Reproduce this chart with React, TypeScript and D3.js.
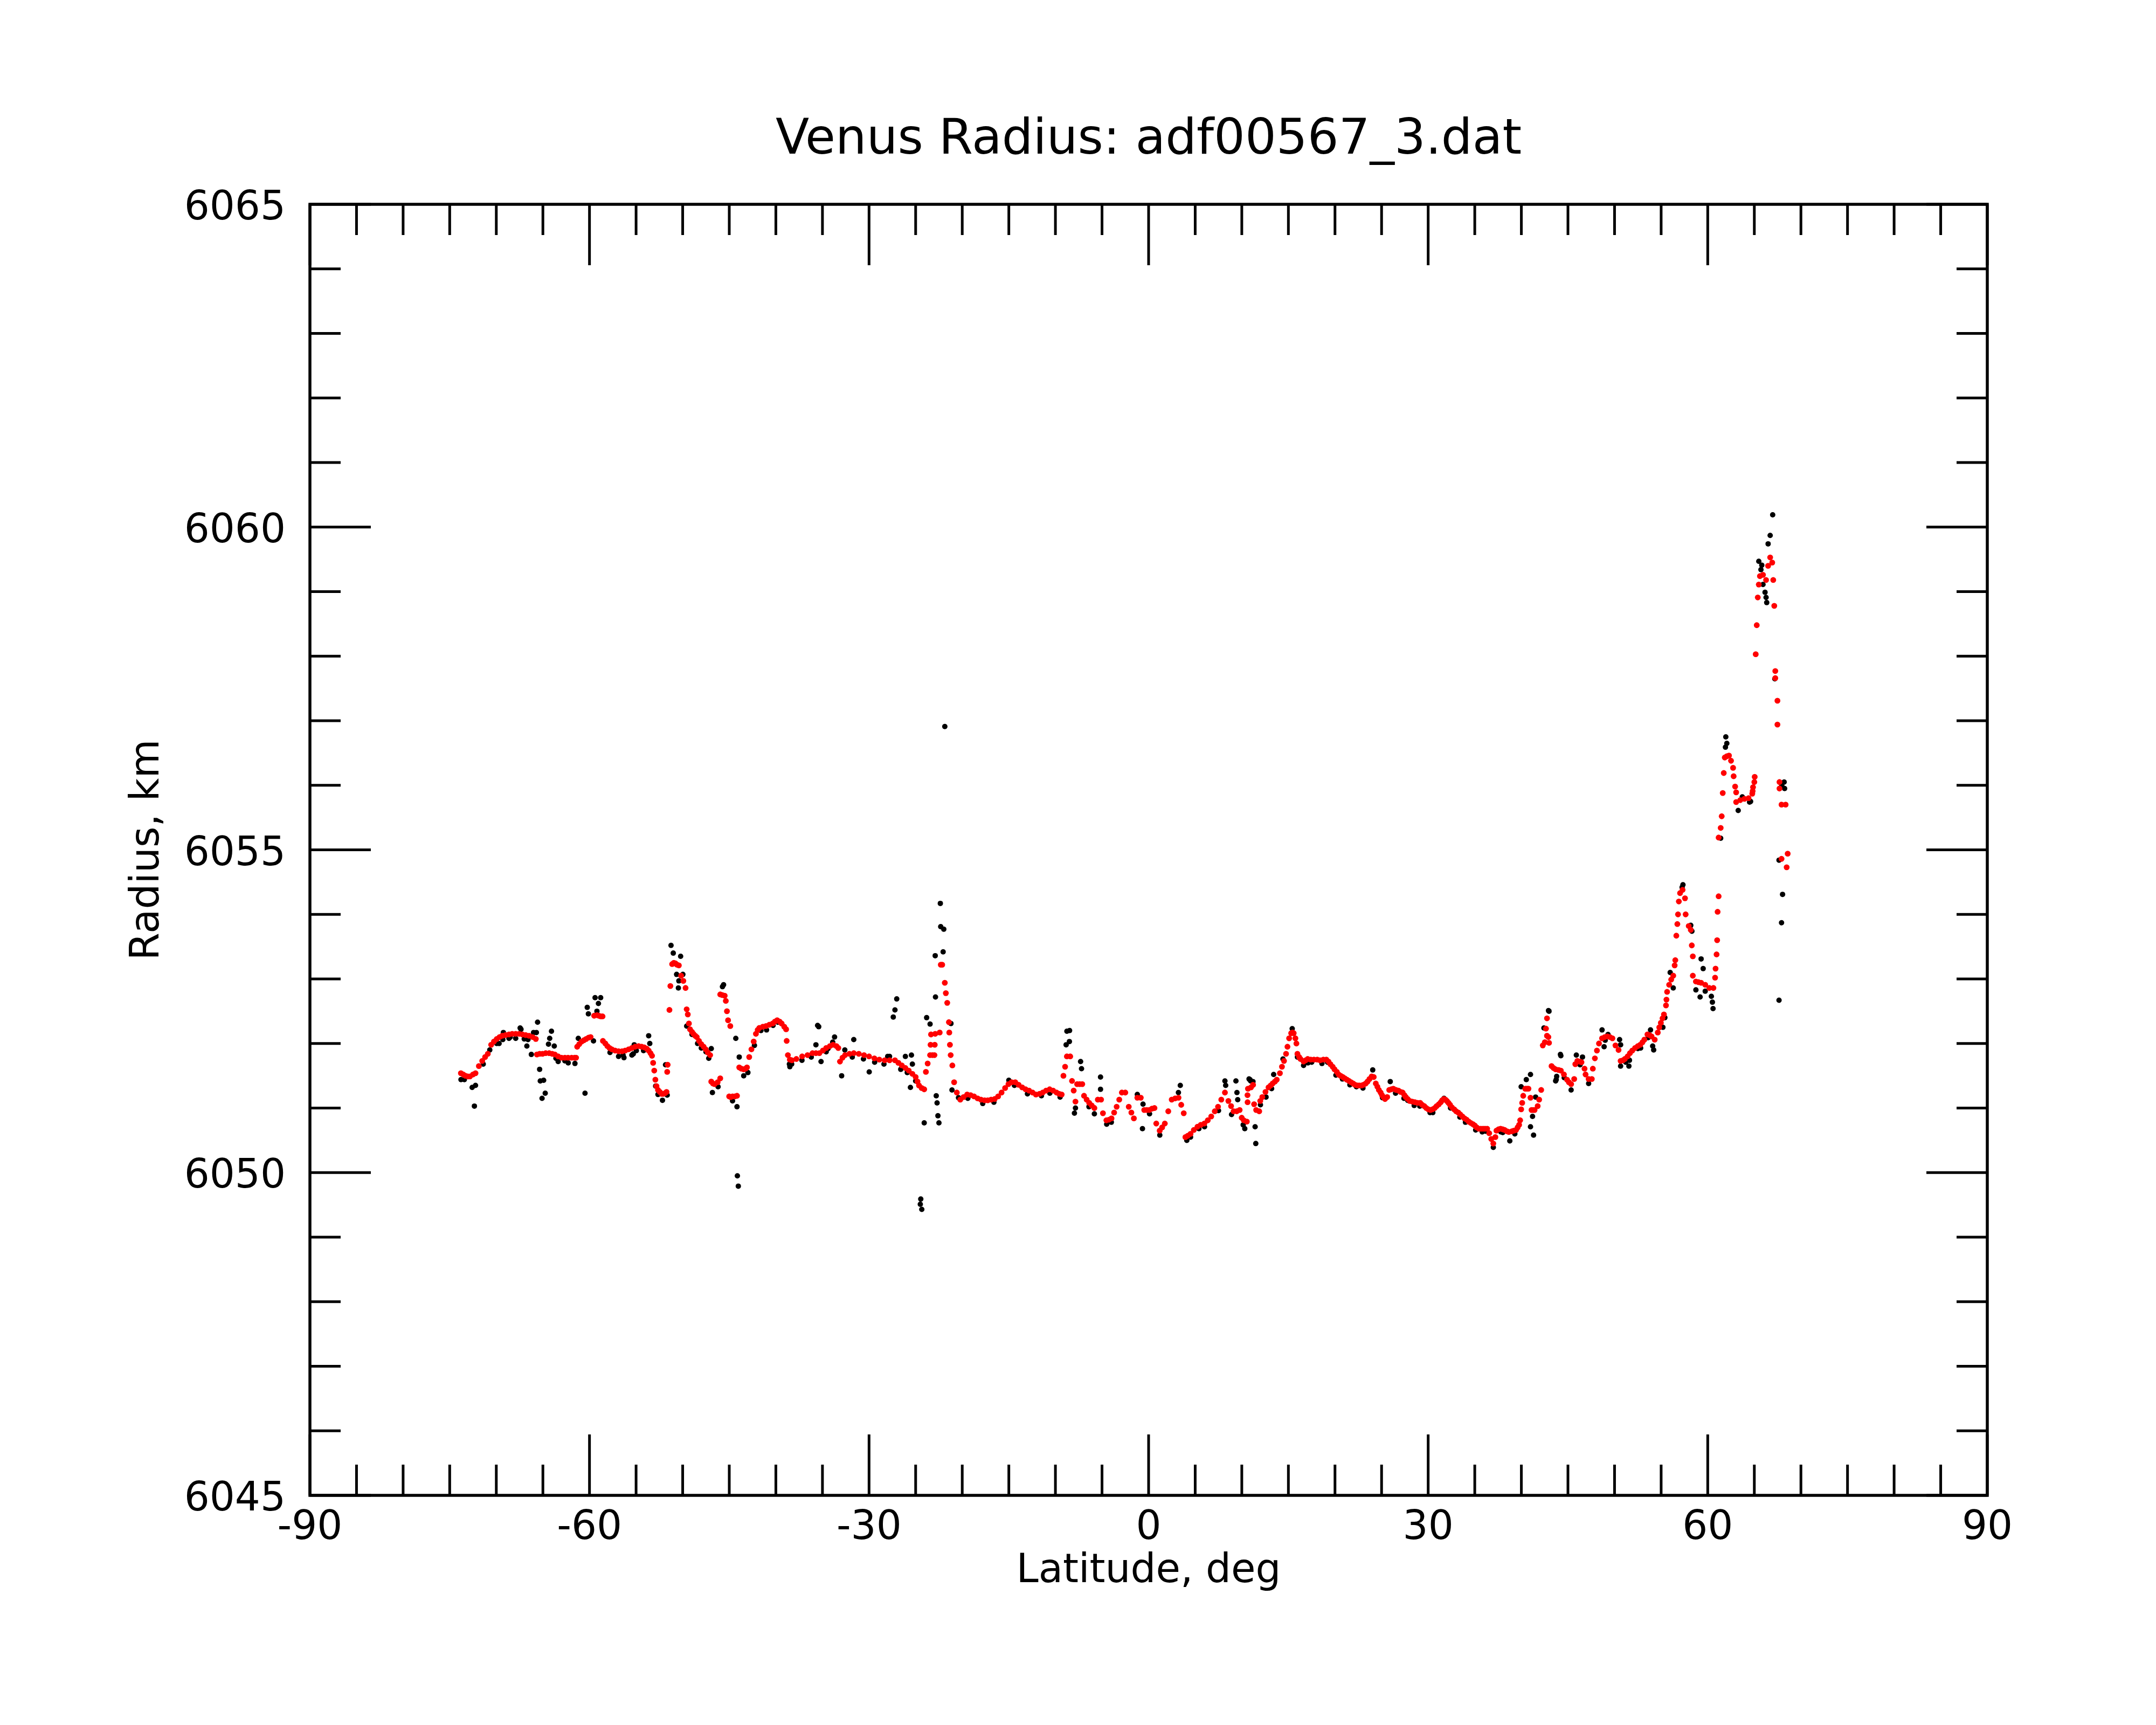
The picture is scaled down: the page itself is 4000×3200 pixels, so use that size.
import { scaleLinear, range } from "d3";

// ---- data: [latitude deg, radius km] ----
const fitSouth: [number, number][] = [
  [-73.8, 6051.54], [-73.55, 6051.52], [-73.31, 6051.5], [-73.05, 6051.49], [-72.83, 6051.49], [-72.5, 6051.52],
  [-72.23, 6051.54], [-71.87, 6051.65], [-71.51, 6051.73], [-71.2, 6051.79], [-70.91, 6051.84], [-70.55, 6051.98],
  [-70.25, 6052.03], [-69.95, 6052.07], [-69.65, 6052.1], [-69.36, 6052.12], [-69.0, 6052.13], [-68.64, 6052.14],
  [-68.3, 6052.15], [-67.92, 6052.15], [-67.55, 6052.15], [-67.2, 6052.14], [-66.85, 6052.13], [-66.48, 6052.12],
  [-66.1, 6052.1], [-65.76, 6052.07], [-65.64, 6051.83], [-65.35, 6051.84], [-65.04, 6051.84], [-64.7, 6051.85],
  [-64.32, 6051.85], [-64.0, 6051.84], [-63.72, 6051.83], [-63.36, 6051.8], [-63.0, 6051.78], [-62.64, 6051.78],
  [-62.3, 6051.78], [-61.92, 6051.78], [-61.6, 6051.78], [-61.44, 6051.78], [-61.32, 6051.95], [-61.1, 6051.99],
  [-60.84, 6052.03], [-60.6, 6052.05], [-60.36, 6052.07], [-60.1, 6052.09], [-59.88, 6052.1], [-59.5, 6052.43],
  [-59.2, 6052.44], [-59.0, 6052.43], [-58.8, 6052.42], [-58.6, 6052.42], [-58.56, 6052.04], [-58.3, 6052.0],
  [-58.08, 6051.96], [-57.85, 6051.93], [-57.6, 6051.91], [-57.25, 6051.89], [-56.88, 6051.88], [-56.5, 6051.88],
  [-56.17, 6051.89], [-55.8, 6051.91], [-55.45, 6051.93], [-55.1, 6051.95], [-54.73, 6051.96], [-54.4, 6051.95],
  [-54.13, 6051.94], [-53.85, 6051.92], [-53.65, 6051.89], [-53.45, 6051.85], [-53.29, 6051.81], [-53.17, 6051.7],
  [-53.05, 6051.58], [-52.93, 6051.44], [-52.81, 6051.34], [-52.65, 6051.28], [-52.45, 6051.25], [-52.25, 6051.22],
  [-52.09, 6051.22], [-51.9, 6051.23], [-51.73, 6051.25], [-51.66, 6051.56], [-51.61, 6051.67], [-51.42, 6052.52],
  [-51.32, 6052.89], [-51.13, 6053.23], [-50.95, 6053.25], [-50.77, 6053.24], [-50.6, 6053.22], [-50.41, 6053.21],
  [-50.17, 6053.05], [-49.93, 6052.97], [-49.69, 6052.86], [-49.57, 6052.53], [-49.45, 6052.45], [-49.33, 6052.31],
  [-49.21, 6052.22], [-49.0, 6052.18], [-48.85, 6052.15], [-48.65, 6052.12], [-48.49, 6052.1], [-48.25, 6052.04],
  [-48.01, 6051.99], [-47.75, 6051.95], [-47.53, 6051.91], [-47.3, 6051.86], [-47.05, 6051.82], [-46.93, 6051.41],
  [-46.75, 6051.38], [-46.57, 6051.37], [-46.25, 6051.4], [-45.97, 6051.46], [-45.97, 6052.76], [-45.75, 6052.75],
  [-45.49, 6052.74], [-45.37, 6052.66], [-45.25, 6052.5], [-45.13, 6052.36], [-44.89, 6052.27], [-45.01, 6051.18],
  [-44.85, 6051.17], [-44.65, 6051.18], [-44.4, 6051.18], [-44.17, 6051.19], [-43.93, 6051.63], [-43.7, 6051.61],
  [-43.45, 6051.6], [-43.25, 6051.61], [-43.1, 6051.63], [-42.86, 6051.79], [-42.62, 6051.91], [-42.38, 6052.03],
  [-42.14, 6052.15], [-41.95, 6052.21], [-41.78, 6052.24], [-41.4, 6052.26], [-41.06, 6052.27], [-40.7, 6052.29],
  [-40.34, 6052.31], [-40.1, 6052.34], [-39.86, 6052.36], [-39.6, 6052.34], [-39.38, 6052.31], [-39.1, 6052.26],
  [-38.9, 6052.22], [-38.84, 6052.04], [-38.71, 6051.82], [-38.5, 6051.75], [-38.28, 6051.74],
];

const fitMiddle: [number, number][] = [
  [-37.8, 6051.76], [-37.18, 6051.8], [-36.6, 6051.82], [-36.07, 6051.85], [-35.7, 6051.85], [-35.33, 6051.85],
  [-34.95, 6051.89], [-34.6, 6051.93], [-34.2, 6051.96], [-33.86, 6051.98], [-33.5, 6051.96], [-33.3, 6051.93],
  [-33.12, 6051.72], [-32.85, 6051.78], [-32.57, 6051.82], [-32.1, 6051.84], [-31.64, 6051.85], [-31.1, 6051.84],
  [-30.54, 6051.82], [-30.0, 6051.8], [-29.43, 6051.77], [-28.9, 6051.75], [-28.32, 6051.74], [-27.8, 6051.74],
  [-27.22, 6051.74], [-26.85, 6051.7], [-26.48, 6051.66], [-26.1, 6051.62], [-25.74, 6051.58], [-25.35, 6051.53],
  [-25.0, 6051.48], [-24.8, 6051.41], [-24.64, 6051.35], [-24.35, 6051.31], [-24.08, 6051.29], [-23.9, 6051.56],
  [-23.71, 6051.69], [-23.45, 6051.82], [-23.2, 6051.82], [-22.98, 6051.82], [-23.4, 6051.98], [-22.95, 6051.98],
  [-23.35, 6052.14], [-22.9, 6052.15], [-22.42, 6052.17], [-22.3, 6053.22], [-22.15, 6053.22], [-21.87, 6052.94],
  [-21.76, 6052.78], [-21.61, 6052.63], [-21.43, 6052.33], [-21.39, 6052.17], [-21.32, 6051.98], [-21.24, 6051.82],
  [-21.06, 6051.66], [-20.87, 6051.4], [-20.58, 6051.24], [-20.21, 6051.13], [-19.85, 6051.17], [-19.47, 6051.21],
  [-19.1, 6051.2], [-18.73, 6051.18], [-18.35, 6051.15], [-17.99, 6051.13], [-17.6, 6051.12], [-17.26, 6051.12],
  [-16.9, 6051.13], [-16.52, 6051.14], [-16.15, 6051.18], [-15.78, 6051.24], [-15.4, 6051.31], [-15.04, 6051.37],
  [-14.7, 6051.4], [-14.31, 6051.4], [-13.95, 6051.36], [-13.57, 6051.32], [-13.2, 6051.29], [-12.83, 6051.27],
  [-12.45, 6051.24], [-12.09, 6051.21], [-11.7, 6051.22], [-11.36, 6051.24], [-11.0, 6051.27], [-10.62, 6051.29],
  [-10.25, 6051.27], [-9.88, 6051.24], [-9.6, 6051.22], [-9.33, 6051.21], [-9.14, 6051.5], [-8.96, 6051.64],
  [-8.77, 6051.8], [-8.41, 6051.8], [-8.22, 6051.42], [-8.04, 6051.27], [-7.85, 6051.1], [-7.67, 6051.37],
  [-7.4, 6051.37], [-7.12, 6051.37], [-6.93, 6051.19], [-6.65, 6051.13], [-6.38, 6051.08], [-6.1, 6051.04],
  [-5.82, 6051.0], [-5.45, 6051.13], [-5.1, 6051.13], [-4.9, 6050.92], [-4.53, 6050.81], [-4.25, 6050.82],
  [-3.98, 6050.84], [-3.7, 6050.93], [-3.43, 6051.02], [-3.15, 6051.13], [-2.87, 6051.24], [-2.5, 6051.24],
  [-2.13, 6051.02], [-1.85, 6050.93], [-1.58, 6050.84], [-1.21, 6051.16], [-0.84, 6051.16], [-0.47, 6050.97],
  [-0.2, 6050.97], [0.08, 6050.97], [0.35, 6050.99], [0.63, 6051.0], [0.82, 6050.76], [1.19, 6050.65],
  [1.45, 6050.7], [1.74, 6050.76], [2.11, 6050.95], [2.48, 6051.13], [2.85, 6051.15], [3.21, 6051.16],
  [3.5, 6051.05], [3.77, 6050.92], [3.95, 6050.55], [4.2, 6050.57], [4.5, 6050.6], [4.85, 6050.66],
  [5.24, 6050.71], [5.6, 6050.74], [5.98, 6050.76], [6.35, 6050.81], [6.72, 6050.87], [7.1, 6050.95],
  [7.45, 6051.02], [7.8, 6051.13], [8.19, 6051.24], [8.56, 6051.11], [8.85, 6051.03], [9.12, 6050.95],
  [9.45, 6050.95],
];

const fitNorth: [number, number][] = [
  [9.77, 6050.97], [9.99, 6050.85], [10.21, 6050.81], [10.54, 6050.79], [10.61, 6051.2], [10.62, 6051.09],
  [10.66, 6051.3], [10.99, 6051.32], [11.21, 6051.36], [11.32, 6051.06], [11.54, 6050.97], [11.87, 6050.95],
  [11.98, 6051.11], [12.2, 6051.17], [12.54, 6051.25], [12.87, 6051.32], [13.1, 6051.35], [13.31, 6051.38],
  [13.55, 6051.41], [13.75, 6051.44], [14.09, 6051.54], [14.31, 6051.64], [14.53, 6051.73], [14.75, 6051.84],
  [14.9, 6051.95], [15.08, 6052.08], [15.3, 6052.16], [15.45, 6052.17], [15.57, 6052.16], [15.75, 6052.08],
  [15.86, 6052.0], [15.97, 6051.84], [16.15, 6051.79], [16.3, 6051.76], [16.63, 6051.72], [16.85, 6051.74],
  [17.07, 6051.76], [17.4, 6051.75], [17.74, 6051.75], [18.1, 6051.75], [18.4, 6051.74], [18.75, 6051.75],
  [19.07, 6051.75], [19.3, 6051.72], [19.51, 6051.68], [19.75, 6051.64], [19.95, 6051.6], [20.2, 6051.56],
  [20.39, 6051.52], [20.6, 6051.5], [20.84, 6051.48], [21.05, 6051.46], [21.28, 6051.44], [21.5, 6051.42],
  [21.72, 6051.4], [21.95, 6051.38], [22.16, 6051.36], [22.4, 6051.35], [22.61, 6051.35], [22.85, 6051.35],
  [23.05, 6051.36], [23.3, 6051.38], [23.49, 6051.41], [23.7, 6051.45], [23.94, 6051.49], [24.16, 6051.48],
  [24.38, 6051.38], [24.55, 6051.33], [24.71, 6051.28], [24.9, 6051.24], [25.04, 6051.2], [25.2, 6051.17],
  [25.37, 6051.14], [25.6, 6051.17], [25.82, 6051.28], [26.05, 6051.29], [26.26, 6051.3], [26.55, 6051.28],
  [26.81, 6051.27], [27.05, 6051.25], [27.26, 6051.24], [27.45, 6051.2], [27.59, 6051.17], [27.8, 6051.14],
  [28.03, 6051.11], [28.3, 6051.1], [28.58, 6051.09], [28.85, 6051.08], [29.14, 6051.08], [29.35, 6051.05],
  [29.58, 6051.03], [29.8, 6051.0], [30.02, 6050.98], [30.25, 6050.97], [30.46, 6050.98], [30.7, 6051.0],
  [30.91, 6051.03], [31.15, 6051.06], [31.35, 6051.09], [31.5, 6051.12], [31.68, 6051.14], [31.85, 6051.13],
  [32.01, 6051.11], [32.18, 6051.08], [32.35, 6051.05], [32.55, 6051.01], [32.79, 6050.98], [33.0, 6050.95],
  [33.23, 6050.93], [33.45, 6050.9], [33.67, 6050.87], [33.9, 6050.84], [34.12, 6050.82], [34.35, 6050.79],
  [34.56, 6050.77], [34.8, 6050.75], [35.0, 6050.73], [35.2, 6050.7], [35.44, 6050.68], [35.65, 6050.68],
  [35.89, 6050.68], [36.1, 6050.68], [36.33, 6050.68], [36.55, 6050.61], [36.77, 6050.52], [36.99, 6050.45],
  [37.21, 6050.55], [37.33, 6050.65], [37.55, 6050.67], [37.77, 6050.68], [38.0, 6050.67], [38.21, 6050.66],
  [38.45, 6050.64], [38.65, 6050.63], [38.98, 6050.64], [39.2, 6050.65], [39.43, 6050.66], [39.6, 6050.7],
  [39.76, 6050.74], [39.87, 6050.81], [39.98, 6050.98], [40.09, 6051.08], [40.2, 6051.19], [40.42, 6051.3],
  [40.6, 6051.3], [40.76, 6051.3], [40.98, 6051.16], [41.09, 6050.97], [41.25, 6050.97], [41.42, 6050.97],
  [41.75, 6051.03], [41.91, 6051.13], [42.13, 6051.28], [42.3, 6051.97], [42.52, 6052.02], [42.97, 6052.01],
  [42.75, 6052.12], [42.64, 6052.23], [42.75, 6052.39], [42.9, 6052.1], [43.24, 6051.65], [43.45, 6051.62],
  [43.68, 6051.6], [44.0, 6051.59], [44.24, 6051.58], [44.57, 6051.52], [44.9, 6051.44], [45.1, 6051.4],
  [45.34, 6051.37], [45.67, 6051.45], [45.79, 6051.68], [46.01, 6051.73], [46.25, 6051.72], [46.45, 6051.71],
  [46.78, 6051.61], [46.89, 6051.52], [47.22, 6051.45], [47.56, 6051.45], [47.67, 6051.61], [47.89, 6051.77],
  [48.11, 6051.89], [48.33, 6052.0], [48.66, 6052.08], [48.95, 6052.1], [49.22, 6052.11], [49.5, 6052.1],
  [49.77, 6052.08], [50.1, 6051.97], [50.43, 6051.9], [50.65, 6051.73], [50.9, 6051.74], [51.1, 6051.76],
  [51.4, 6051.8], [51.65, 6051.85], [51.9, 6051.89], [52.2, 6051.93], [52.5, 6051.96], [52.76, 6051.98],
  [53.0, 6052.02], [53.2, 6052.06], [53.53, 6052.14], [53.75, 6052.13], [53.97, 6052.11], [54.31, 6052.06],
  [54.64, 6052.17], [54.8, 6052.25], [54.97, 6052.32], [55.15, 6052.39], [55.3, 6052.45], [55.52, 6052.59],
  [55.57, 6052.68], [55.64, 6052.8], [55.86, 6052.91], [56.08, 6052.99], [56.3, 6053.05], [56.45, 6053.21],
  [56.52, 6053.29], [56.63, 6053.67], [56.74, 6053.85], [56.81, 6054.0], [56.9, 6054.2], [57.03, 6054.33],
  [57.3, 6054.38], [57.56, 6054.25], [57.63, 6054.0], [57.96, 6053.82], [58.18, 6053.76], [58.29, 6053.52],
  [58.4, 6053.35], [58.4, 6053.05], [58.73, 6052.96], [59.0, 6052.95], [59.29, 6052.94], [59.73, 6052.91],
  [60.17, 6052.86], [60.61, 6052.86], [60.79, 6053.02], [60.84, 6053.16], [60.95, 6053.38], [61.01, 6053.6],
  [61.06, 6054.04], [61.17, 6054.28], [61.17, 6055.19], [61.39, 6055.34], [61.5, 6055.52], [61.61, 6055.88],
  [61.72, 6056.19], [61.83, 6056.43], [62.05, 6056.45], [62.28, 6056.46], [62.5, 6056.38], [62.72, 6056.27],
  [62.78, 6056.14], [62.94, 6055.98], [63.05, 6055.89], [63.05, 6055.74], [63.49, 6055.77], [63.94, 6055.79],
  [64.38, 6055.8], [64.78, 6055.87], [64.82, 6055.91], [64.86, 6055.97], [65.0, 6056.05], [65.04, 6056.13],
  [65.15, 6058.03], [65.26, 6058.48], [65.37, 6058.91], [65.48, 6059.11], [65.6, 6059.24], [65.93, 6059.26],
  [66.26, 6059.18], [66.48, 6059.4], [66.7, 6059.53], [66.92, 6059.45], [67.03, 6059.18], [67.14, 6058.78],
  [67.25, 6057.77], [67.25, 6057.66], [67.48, 6057.31], [67.48, 6056.94], [67.7, 6056.05], [67.7, 6055.95],
  [67.92, 6055.7], [68.36, 6055.7], [67.92, 6054.86], [68.58, 6054.94], [68.47, 6054.73],
];

const rawSouth: [number, number][] = [
  [-73.79, 6051.44], [-73.43, 6051.44], [-72.59, 6051.32], [-72.23, 6051.35], [-72.35, 6051.03], [-71.4, 6051.68],
  [-70.0, 6052.05], [-69.7, 6052.0], [-69.24, 6052.17], [-68.5, 6052.1], [-67.44, 6052.24], [-67.35, 6052.22],
  [-66.72, 6051.96], [-66.6, 6052.06], [-66.24, 6051.83], [-66.0, 6052.17], [-65.7, 6052.17], [-65.57, 6052.33],
  [-65.35, 6051.6], [-65.28, 6051.42], [-64.92, 6051.43], [-64.75, 6051.23], [-65.09, 6051.15], [-64.08, 6052.19],
  [-64.27, 6052.08], [-64.4, 6051.99], [-63.78, 6051.96], [-63.36, 6051.72], [-62.28, 6051.7], [-61.56, 6051.69],
  [-61.2, 6052.08], [-60.48, 6051.23], [-60.24, 6052.56], [-60.12, 6052.46], [-59.4, 6052.71], [-58.8, 6052.71],
  [-59.04, 6052.62], [-59.2, 6052.5], [-59.57, 6052.04], [-56.4, 6051.82], [-55.3, 6051.84], [-55.2, 6051.98],
  [-53.65, 6052.12], [-53.53, 6052.0], [-52.9, 6051.34], [-52.65, 6051.21], [-52.17, 6051.12], [-51.66, 6051.2],
  [-51.84, 6051.67], [-51.25, 6053.52], [-51.01, 6053.4], [-50.22, 6053.35], [-50.65, 6053.07], [-49.98, 6053.07],
  [-50.41, 6052.97], [-50.46, 6052.86], [-49.57, 6052.27], [-49.0, 6052.14], [-48.4, 6052.0], [-47.5, 6051.87],
  [-46.93, 6051.92], [-46.81, 6051.24], [-46.2, 6051.33], [-45.73, 6052.88], [-45.61, 6052.91], [-44.3, 6052.08],
  [-43.93, 6051.79], [-43.45, 6051.5], [-44.65, 6051.11], [-44.17, 6051.02], [-44.13, 6049.95], [-44.03, 6049.79],
  [-43.0, 6051.55], [-41.6, 6052.2], [-40.3, 6052.28], [-39.8, 6052.33], [-38.55, 6051.68],
  // raw points showing just under the smoothed curve
  [-69.95, 6052.0], [-69.3, 6052.06], [-68.64, 6052.08], [-67.92, 6052.08], [-67.0, 6052.07], [-70.7, 6051.9],
  [-62.64, 6051.73], [-63.6, 6051.77], [-56.88, 6051.8], [-56.3, 6051.78], [-55.45, 6051.82], [-54.97, 6051.89],
  [-54.2, 6051.89], [-57.8, 6051.86], [-48.0, 6051.93], [-47.2, 6051.77], [-42.3, 6051.97], [-41.0, 6052.21],
];

const rawMiddle: [number, number][] = [
  [-38.5, 6051.64], [-35.7, 6051.98], [-35.52, 6052.28], [-35.4, 6052.26], [-35.15, 6051.72], [-34.4, 6051.92],
  [-33.7, 6052.1], [-33.9, 6052.02], [-32.94, 6051.5], [-32.6, 6051.9], [-31.64, 6052.06], [-29.98, 6051.56],
  [-28.0, 6051.8], [-27.8, 6051.8], [-27.4, 6052.41], [-27.22, 6052.52], [-27.03, 6052.69], [-26.1, 6051.8],
  [-25.45, 6051.82], [-25.35, 6051.68], [-25.56, 6051.32], [-24.08, 6050.77], [-24.45, 6049.59], [-24.34, 6049.43],
  [-24.5, 6049.51], [-23.82, 6052.4], [-23.45, 6052.3], [-22.9, 6053.36], [-22.87, 6052.72], [-22.79, 6051.19],
  [-22.7, 6051.08], [-22.61, 6050.88], [-22.5, 6050.77], [-22.35, 6054.17], [-22.31, 6053.81], [-21.98, 6053.77],
  [-22.05, 6053.42], [-21.87, 6056.91], [-21.21, 6052.31], [-21.1, 6051.28], [-20.4, 6051.16], [-15.0, 6051.43],
  [-12.9, 6051.25], [-11.5, 6051.19], [-9.5, 6051.17], [-8.77, 6052.19], [-8.48, 6052.2], [-8.5, 6052.03],
  [-8.85, 6051.98], [-7.3, 6051.72], [-7.2, 6051.61], [-7.85, 6051.0], [-7.96, 6050.92], [-5.82, 6050.91],
  [-5.16, 6051.48], [-5.16, 6051.29], [-4.5, 6050.75], [-1.21, 6051.21], [-0.66, 6050.68], [-0.6, 6051.06],
  [1.2, 6050.58], [3.4, 6051.35], [3.2, 6051.24], [4.1, 6050.5], [5.4, 6050.68], [8.19, 6051.42],
  [8.27, 6051.35], [9.37, 6051.42], [9.48, 6051.24], [9.56, 6051.13], [8.9, 6050.9], [10.15, 6050.74],
  [10.78, 6051.45], [10.95, 6051.42],
  // raw points showing just under the smoothed curve
  [-38.3, 6051.68], [-37.2, 6051.74], [-36.2, 6051.79], [-34.6, 6051.87], [-31.8, 6051.79], [-30.6, 6051.76],
  [-29.4, 6051.71], [-28.4, 6051.68], [-26.6, 6051.6], [-25.9, 6051.55], [-25.0, 6051.42], [-19.4, 6051.15],
  [-17.8, 6051.07], [-16.6, 6051.09], [-14.4, 6051.35], [-13.0, 6051.22], [-10.6, 6051.23], [-6.4, 6051.02],
  [-4.0, 6050.78], [0.1, 6050.91], [4.5, 6050.55], [6.0, 6050.71], [7.5, 6050.96],
];

const rawNorth: [number, number][] = [
  [10.32, 6050.68], [11.43, 6050.71], [11.5, 6050.45], [10.88, 6051.44], [11.2, 6051.41], [12.0, 6051.05],
  [12.6, 6051.17], [13.42, 6051.52], [13.2, 6051.3], [14.42, 6051.76], [15.41, 6052.23], [15.97, 6051.79],
  [16.63, 6051.66], [17.5, 6051.71], [19.2, 6051.71], [20.8, 6051.45], [22.3, 6051.33], [24.05, 6051.59],
  [25.93, 6051.41], [25.1, 6051.16], [27.8, 6051.12], [28.5, 6051.04], [30.2, 6050.93], [31.7, 6051.15],
  [33.4, 6050.86], [35.1, 6050.66], [36.2, 6050.64], [36.99, 6050.39], [38.0, 6050.62], [38.76, 6050.49],
  [39.98, 6051.33], [40.53, 6051.44], [40.98, 6051.52], [41.2, 6050.87], [40.98, 6050.71], [41.31, 6050.58],
  [41.53, 6051.17], [42.42, 6052.24], [42.97, 6052.5], [42.91, 6052.51], [43.74, 6051.44], [44.19, 6051.83],
  [44.24, 6051.81], [43.79, 6051.49], [43.68, 6051.42], [45.34, 6051.28], [45.9, 6051.82], [46.56, 6051.79],
  [47.22, 6051.38], [48.66, 6052.21], [48.88, 6051.95], [49.3, 6052.14], [50.54, 6052.06], [50.65, 6051.98],
  [50.65, 6051.65], [51.54, 6051.65], [51.6, 6051.74], [52.5, 6051.92], [53.86, 6052.21], [54.09, 6051.96],
  [54.2, 6051.9], [55.19, 6052.25], [55.97, 6053.1], [56.3, 6052.86], [57.34, 6054.46], [57.25, 6054.42],
  [58.18, 6053.83], [58.3, 6053.74], [59.29, 6053.31], [59.51, 6053.16], [58.73, 6052.83], [59.18, 6052.72],
  [59.73, 6052.81], [60.39, 6052.73], [60.5, 6052.64], [60.57, 6052.54], [61.39, 6055.18], [63.27, 6055.61],
  [64.6, 6055.75], [68.03, 6054.31], [67.92, 6053.87], [67.65, 6052.67], [67.65, 6054.84], [67.95, 6056.0],
  [66.97, 6060.19], [66.7, 6059.87], [66.48, 6059.74], [65.48, 6059.47], [65.8, 6059.41], [65.71, 6059.34],
  [65.93, 6059.11], [66.15, 6058.99], [66.26, 6058.91], [66.33, 6058.83], [61.94, 6056.75], [62.05, 6056.65],
  [61.9, 6056.59], [63.71, 6055.82], [64.49, 6055.74], [67.2, 6057.65], [68.2, 6056.05], [68.25, 6055.95],
  // raw points showing just under the smoothed curve
  [17.1, 6051.7], [18.6, 6051.69], [20.1, 6051.51], [21.6, 6051.36], [23.0, 6051.31], [26.5, 6051.23],
  [27.4, 6051.15], [29.1, 6051.03], [30.5, 6050.93], [32.4, 6051.0], [34.0, 6050.78], [35.8, 6050.63],
  [37.8, 6050.63], [39.3, 6050.6], [44.6, 6051.47], [46.3, 6051.67], [49.0, 6052.05], [51.2, 6051.71],
  [52.8, 6051.93], [53.6, 6052.09], [55.4, 6052.4],
];

const xTickLabels = [-90, -60, -30, 0, 30, 60, 90];
const yTickLabels = [6045, 6050, 6055, 6060, 6065];

const title = "Venus Radius: adf00567_3.dat";
const xTitle = "Latitude, deg";
const yTitle = "Radius, km";

export default function App() {
  const width = 4000;
  const height = 3200;
  const left = 575;
  const right = 3687;
  const top = 379;
  const bottom = 2774;

  const x = scaleLinear().domain([-90, 90]).range([left, right]);
  const y = scaleLinear().domain([6045, 6065]).range([bottom, top]);

  const font = "DejaVu Sans, sans-serif";
  const stroke = 5;
  const majorLen = 113;
  const minorLen = 57;

  const xMinor = range(-90, 91, 5).filter((v) => !xTickLabels.includes(v));
  const yMinor = range(6045, 6066, 1).filter((v) => !yTickLabels.includes(v));

  const raw = [...rawSouth, ...rawMiddle, ...rawNorth];
  const fit = [...fitSouth, ...fitMiddle, ...fitNorth];

  return (
    <svg
      width={width}
      height={height}
      style={{ position: "absolute", left: 0, top: 0, background: "#fff" }}
      fontFamily={font}
    >
      <rect x={0} y={0} width={width} height={height} fill="#fff" />

      {/* raw points, then smoothed ones on top */}
      {raw.map(([lat, r], i) => (
        <circle key={`k${i}`} cx={x(lat)} cy={y(r)} r={5} fill="#000" />
      ))}
      {fit.map(([lat, r], i) => (
        <circle key={`r${i}`} cx={x(lat)} cy={y(r)} r={5.4} fill="#ff0000" />
      ))}

      {/* ticks */}
      <g stroke="#000" strokeWidth={stroke}>
        {xTickLabels.map((v) => (
          <g key={`xm${v}`}>
            <line x1={x(v)} x2={x(v)} y1={bottom} y2={bottom - majorLen} />
            <line x1={x(v)} x2={x(v)} y1={top} y2={top + majorLen} />
          </g>
        ))}
        {xMinor.map((v) => (
          <g key={`xn${v}`}>
            <line x1={x(v)} x2={x(v)} y1={bottom} y2={bottom - minorLen} />
            <line x1={x(v)} x2={x(v)} y1={top} y2={top + minorLen} />
          </g>
        ))}
        {yTickLabels.map((v) => (
          <g key={`ym${v}`}>
            <line x1={left} x2={left + majorLen} y1={y(v)} y2={y(v)} />
            <line x1={right} x2={right - majorLen} y1={y(v)} y2={y(v)} />
          </g>
        ))}
        {yMinor.map((v) => (
          <g key={`yn${v}`}>
            <line x1={left} x2={left + minorLen} y1={y(v)} y2={y(v)} />
            <line x1={right} x2={right - minorLen} y1={y(v)} y2={y(v)} />
          </g>
        ))}
      </g>

      {/* frame */}
      <rect
        x={left}
        y={top}
        width={right - left}
        height={bottom - top}
        fill="none"
        stroke="#000"
        strokeWidth={5.5}
      />

      {/* tick labels */}
      {xTickLabels.map((v) => (
        <text key={`xl${v}`} x={x(v)} y={bottom + 81} fontSize={74} textAnchor="middle" fill="#000">
          {v}
        </text>
      ))}
      {yTickLabels.map((v) => (
        <text key={`yl${v}`} x={left - 45} y={y(v) + 28} fontSize={74} textAnchor="end" fill="#000">
          {v}
        </text>
      ))}

      {/* titles */}
      <text x={(left + right) / 2} y={285} fontSize={91} textAnchor="middle" fill="#000">
        {title}
      </text>
      <text x={(left + right) / 2} y={2935} fontSize={74} textAnchor="middle" fill="#000">
        {xTitle}
      </text>
      <text
        transform={`translate(294, ${(top + bottom) / 2}) rotate(-90)`}
        fontSize={74}
        textAnchor="middle"
        fill="#000"
      >
        {yTitle}
      </text>
    </svg>
  );
}
